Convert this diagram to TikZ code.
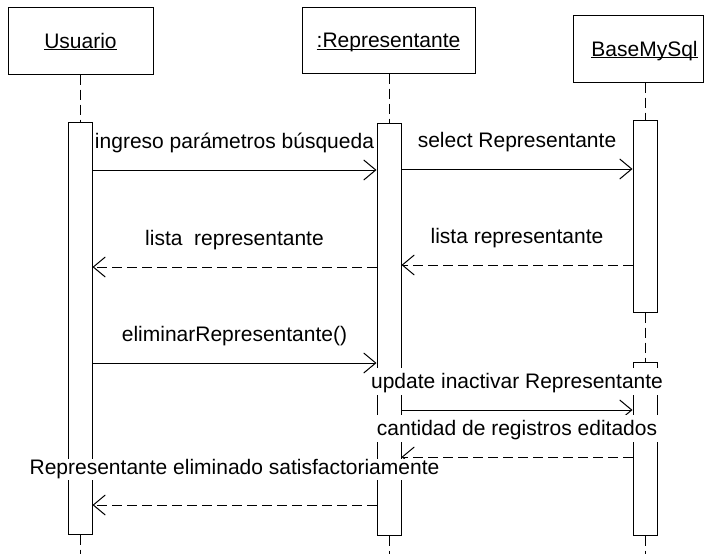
\documentclass[tikz,border=0pt]{standalone}
\usepackage{fontspec}
\setmainfont{Liberation Sans}
\usetikzlibrary{arrows.meta}
\newcommand{\ulname}[1]{\underline{\smash{#1}}}

\begin{document}
\begin{tikzpicture}[x=1pt, y=-1pt, line width=1pt, font=\fontsize{21}{25}\selectfont,
  head/.style = {draw, minimum height=67pt, inner sep=0pt, text height=15pt, text depth=0pt},
  act/.style = {draw, fill=white, minimum width=24pt, inner sep=0pt},
  life/.style = {dash pattern=on 10pt off 5pt},
  call/.style = {-{Straight Barb[length=12pt,width=20pt]}},
  reply/.style = {call, dash pattern=on 10pt off 5pt},
  lbl/.style = {fill=white, inner xsep=1pt, inner ysep=2pt, text height=18pt, text depth=4.5pt, above=#1},
  lbl/.default = 15pt]
\useasboundingbox (0,0) rectangle (704,554);
\node[head, minimum width=145pt] (usr) at (80.5,40.5) {\ulname{Usuario}};
\node[head, minimum width=173pt, minimum height=66pt] (rep) at (388.5,40) {\ulname{:Representante}};
\node[head, minimum width=130pt] (bd) at (638,48.5) {\hspace*{13pt}\ulname{BaseMySql}};
\node[act, minimum height=412pt] (ua) at (80,328) {};
\node[act, minimum height=412pt] (ra) at (389,329) {};
\node[act, minimum height=192pt] (ba1) at (645,216) {};
\node[act, minimum height=173pt] (ba2) at (645,448.5) {};
\coordinate (fin) at (0,554);
\coordinate (m1) at (0,170);
\coordinate (m2) at (0,169);
\coordinate (m3) at (0,265);
\coordinate (m4) at (0,267);
\coordinate (m5) at (0,363);
\coordinate (m6) at (0,410);
\coordinate (m7) at (0,457);
\coordinate (m8) at (0,505);
\draw[life] (ua.north |- usr.south) -- (ua.north);
\draw[life] (ua.south) -- (ua.south |- fin);
\draw[life] (ra.north |- rep.south) -- (ra.north);
\draw[life] (ra.south) -- (ra.south |- fin);
\draw[life] (ba1.north |- bd.south) -- (ba1.north);
\draw[life] (ba1.south) -- (ba2.north);
\draw[life] (ba2.south) -- (ba2.south |- fin);
\draw[call] (ua.east |- m1) -- node[lbl, midway] {ingreso parámetros búsqueda} (ra.west |- m1);
\draw[call] (ra.east |- m2) -- node[lbl, midway] {select Representante} (ba1.west |- m2);
\draw[reply] (ba1.west |- m3) -- node[lbl, midway] {lista representante} (ra.east |- m3);
\draw[reply] (ra.west |- m4) -- node[lbl, midway] {lista\ \ representante} (ua.east |- m4);
\draw[call] (ua.east |- m5) -- node[lbl, midway] {eliminarRepresentante()} (ra.west |- m5);
\draw[call] (ra.east |- m6) -- node[lbl, midway] {update inactivar Representante} (ba2.west |- m6);
\draw[reply] (ba2.west |- m7) -- node[lbl, midway] {cantidad de registros editados} (ra.east |- m7);
\draw[reply] (ra.west |- m8) -- node[lbl=24.5pt, midway, text height=15pt, inner ysep=1pt] {Representante eliminado satisfactoriamente} (ua.east |- m8);
\end{tikzpicture}
\end{document}
